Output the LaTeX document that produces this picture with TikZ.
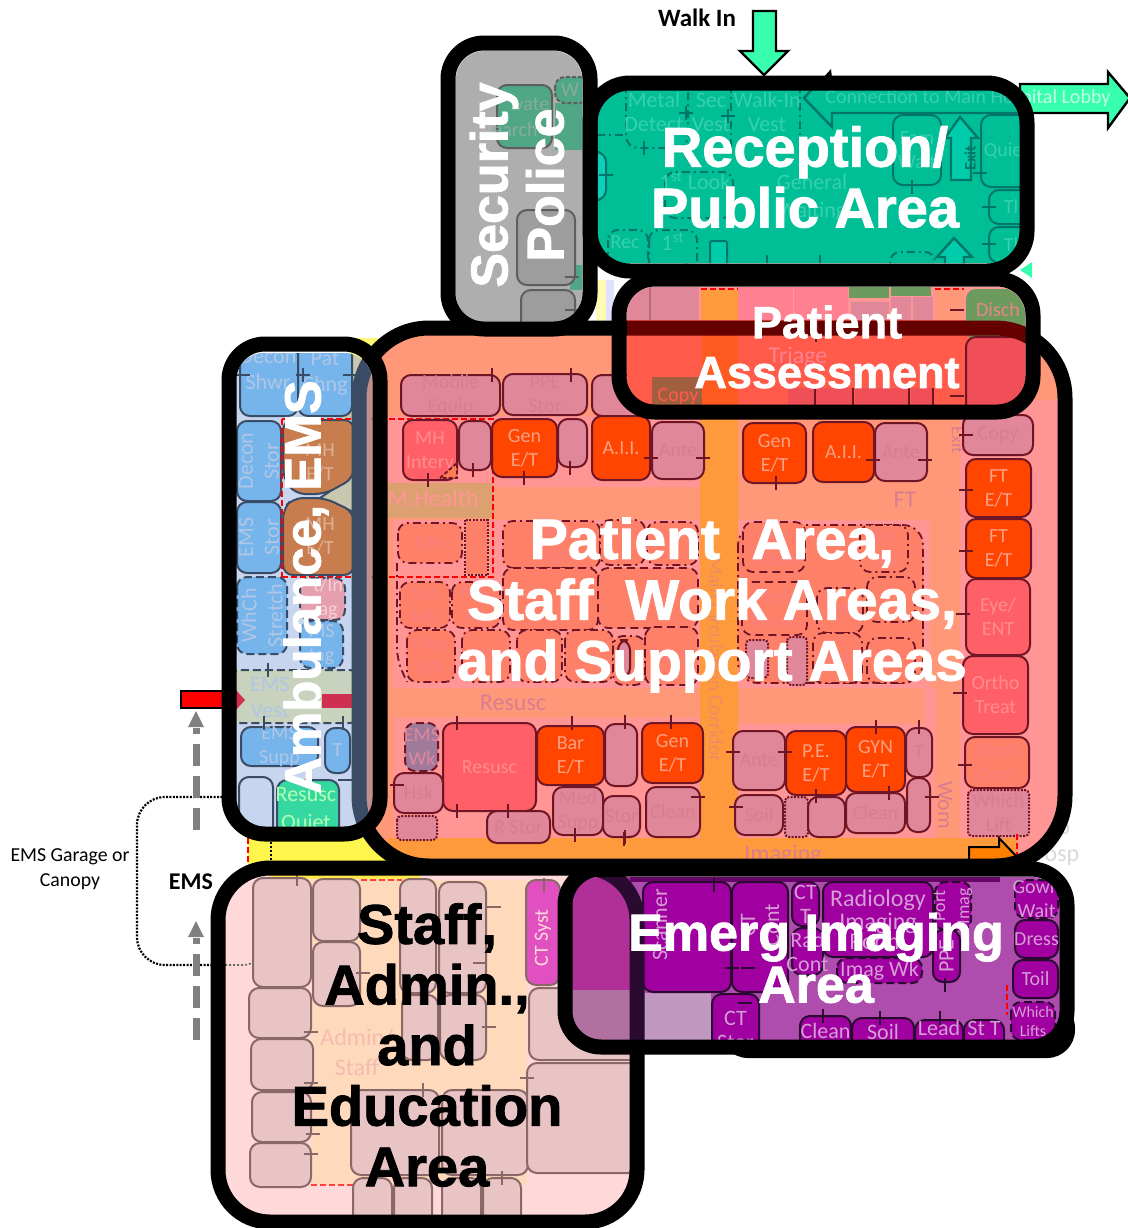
\documentclass[tikz,border=0pt]{standalone}
\usepackage{fontspec}
\setmainfont{Carlito}
\newfontfamily\hdfont{Liberation Sans}[BoldFeatures={FakeBold=1.5}]
\definecolor{pkF}{HTML}{E0879A}\definecolor{pkD}{HTML}{701525}\definecolor{pkT}{HTML}{D97D92}
\definecolor{orF}{HTML}{FF4500}\definecolor{orT}{HTML}{F9A184}
\definecolor{rdF}{HTML}{FF6068}\definecolor{rdT}{HTML}{FF8C8C}
\definecolor{saF}{HTML}{FF9878}\definecolor{piF}{HTML}{FF9595}\definecolor{crF}{HTML}{FF9A3C}
\definecolor{daF}{HTML}{FF8068}\definecolor{daT}{HTML}{F88080}
\definecolor{blF}{HTML}{75B5EC}\definecolor{blD}{HTML}{3A4B66}\definecolor{blT}{HTML}{B0C6E6}
\definecolor{amB}{HTML}{C8D5EE}\definecolor{brF}{HTML}{C87D4F}
\definecolor{teF}{HTML}{00BF96}\definecolor{teD}{HTML}{00776A}\definecolor{teT}{HTML}{36D0B0}
\definecolor{imB}{HTML}{AF4DAF}\definecolor{imF}{HTML}{A000A0}\definecolor{imD}{HTML}{2A0A30}\definecolor{imT}{HTML}{D49ED4}
\definecolor{stB}{HTML}{FFD9D9}\definecolor{stP}{HTML}{FFD9BC}\definecolor{stF}{HTML}{E8C4C4}\definecolor{stD}{HTML}{8A6868}
\definecolor{grF}{HTML}{6D9B5E}\definecolor{seB}{HTML}{AEAEAE}\definecolor{seD}{HTML}{5E5E5E}
\definecolor{mint}{HTML}{38FFAE}
\definecolor{mhB}{HTML}{DDA070}\definecolor{asB}{HTML}{FF5A4A}\definecolor{asR}{HTML}{F04F58}
\definecolor{asP}{HTML}{FF8090}\definecolor{asO}{HTML}{FF5A20}\definecolor{maro}{HTML}{650000}
\definecolor{imL}{HTML}{B03098}\definecolor{imM}{HTML}{B070A0}\definecolor{imG}{HTML}{C098C0}
\definecolor{cpB}{HTML}{A06040}\definecolor{ctS}{HTML}{E050C0}\definecolor{seG}{HTML}{4FA786}
\definecolor{emW}{HTML}{A07A9A}\definecolor{veB}{HTML}{C8D2BC}\definecolor{rsQ}{HTML}{35D8A0}
\definecolor{crR}{HTML}{D03050}\definecolor{bnd}{HTML}{C09090}\definecolor{tri}{HTML}{C8C8B0}
\newcounter{lb}
\tikzset{
 lbl/.style={inner sep=0pt,align=center,font=\fontsize{10}{12}\selectfont},
 bigw/.style={inner sep=0pt,align=center,text=white,font=\hdfont\bfseries\fontsize{#1}{#1}\selectfont},
 bigk/.style={inner sep=0pt,align=center,text=black,font=\hdfont\bfseries\fontsize{28}{30.3}\selectfont},
 frameline/.style={draw=black,line width=7.5pt},
 rr/.style={rounded corners=5pt,line width=1pt},
 pk/.style={rr,fill=pkF,draw=pkD}, pkl/.style={text=pkT},
 orr/.style={rr,fill=orF,draw=pkD}, orrl/.style={text=orT},
 rdr/.style={rr,fill=rdF,draw=pkD}, rdrl/.style={text=rdT},
 dda/.style={rr,line width=0.9pt,fill=daF,draw=pkD,dash pattern=on 4pt off 2.5pt}, ddal/.style={text=daT},
 ddo/.style={rr,line width=0.9pt,fill=daF,draw=pkD,dash pattern=on 4pt off 2pt on 1pt off 2pt}, ddol/.style={text=daT},
 ddt/.style={rr,rounded corners=2pt,fill=pkF,draw=pkD,dash pattern=on 1pt off 0.7pt}, ddtl/.style={text=pkT},
 bl/.style={rr,fill=blF,draw=blD}, bll/.style={text=blT},
 bld/.style={bl,dash pattern=on 4pt off 2pt}, bldl/.style={text=blT},
 te/.style={rr,fill=teF,draw=teD}, tel/.style={text=teT},
 ted/.style={te,dash pattern=on 4pt off 2pt on 1pt off 2pt}, tedl/.style={text=teT},
 im/.style={rr,fill=imF,draw=imD}, iml/.style={text=imT},
 imd/.style={im,dash pattern=on 4pt off 2pt}, imdl/.style={text=imT},
 st/.style={rr,fill=stF,draw=stD}, stl/.style={text=stD},
 se/.style={rr,fill=seB!90!black,draw=seD}, sel/.style={text=seD},
 tk/.style={line width=1pt},
 ems/.style={draw=gray,line width=3.5pt,dash pattern=on 11pt off 5pt},
 reddash/.style={red,line width=0.9pt,dash pattern=on 3pt off 1.5pt},
}
\newcommand{\Rm}[7][]{%
 \draw[#2] (#3,#4) rectangle (#5,#6);
 \stepcounter{lb}\node[lbl,#2l,#1] (lb\arabic{lb}) at ({(#3+#5)/2},{(#4+#6)/2}) {#7};}
\newcommand{\Tx}[4][]{\stepcounter{lb}\node[lbl,#1] (lb\arabic{lb}) at (#2,#3) {#4};}
\newcommand{\Hk}[2]{\foreach \x/\y in {#2} \draw[tk,#1] ({\x-7},\y) -- ({\x+7},\y);}
\newcommand{\Vk}[2]{\foreach \x/\y in {#2} \draw[tk,#1] (\x,{\y-7}) -- (\x,{\y+7});}
\newcommand{\PatRing}[1]{\draw[line width=7.5pt,draw=#1,rounded corners=35pt] (359,328) rectangle (1065,866);}
\newcommand{\StaffRing}[1]{\draw[line width=7.5pt,draw=#1,rounded corners=26pt] (218,868) rectangle (637,1222);}
\begin{document}
\begin{tikzpicture}[x=0.5pt,y=-0.5pt]
\useasboundingbox (0,0) rectangle (1128,1228);
\fill[white] (0,0) rectangle (1128,1228);
% yellow canopy strip and small wedges
\fill[yellow!70!white] (248,838) rectangle (400,866);
\fill[yellow!55!white] (350,338) -- (385,338) -- (385,360) -- (350,360) -- cycle;
\draw[reddash] (248,838) -- (248,866);
\draw[black,line width=1.2pt,dash pattern=on 1pt off 1pt] (271,838) -- (271,866);
\fill[yellow!30!white] (596,280) rectangle (606,336);
\fill[blue!12!white] (606,280) rectangle (614,336);
% faint text to the right of the patient area
\Tx[text=black!15,font=\fontsize{12}{12}\selectfont]{1064}{829}{o}
\Tx[text=black!15,font=\fontsize{12}{12}\selectfont]{1062}{858}{osp}
% left side
\Tx[text=black,font=\fontsize{9.9}{12.4}\selectfont]{70}{869}{EMS Garage or\\Canopy}
\Tx[text=black,font=\bfseries\fontsize{12}{12}\selectfont]{191}{882}{EMS}
\draw[black,line width=1.1pt,dash pattern=on 1pt off 0.7pt,rounded corners=14pt] (236,797) -- (137,797) -- (137,965) -- (225,965);
\draw[ems] (196,830) -- (196,728);
\fill[gray] (196,711) -- (204,727) -- (188,727) -- cycle;
\draw[ems] (196,1040) -- (196,938);
\fill[gray] (196,921) -- (204,937) -- (188,937) -- cycle;
\draw[black,line width=1pt,fill=red] (181,691) rectangle (245,708);
% walk-in and lobby arrows
\Tx[text=black,font=\bfseries\fontsize{12.5}{12.5}\selectfont]{697}{18}{Walk In}
\draw[black,line width=1.2pt,fill=mint] (753,11) -- (776,11) -- (776,51) -- (788,51) -- (764,75) -- (740,51) -- (753,51) -- cycle;
\draw[black,line width=1.2pt,fill=mint] (1020,84) -- (1108,84) -- (1108,72) -- (1130,98) -- (1108,128) -- (1108,113) -- (1020,113) -- cycle;
\Tx[text=mint!30!white,font=\fontsize{10}{10}\selectfont]{968}{98}{Connection to Main Hospital Lobby}
\fill[black] (831,69) -- (832,78) -- (823,78) -- cycle;
\fill[mint] (1020,270) -- (1032,262) -- (1032,278) -- cycle;
% ================= PATIENT AREA =================
\begin{scope}
\clip[rounded corners=35pt] (359,328) rectangle (1065,866);
\fill[saF] (340,320) rectangle (1080,870);
\fill[piF] (387,416) rectangle (704,487);
\fill[piF] (393,520) rectangle (700,688);
\fill[piF] (738,520) rectangle (930,688);
\fill[piF] (394,718) rectangle (704,842);
\fill[piF] (733,724) rectangle (935,842);
\fill[piF] (925,688) rectangle (935,730);
\fill[piF] (960,400) rectangle (1080,870);
\fill[crF] (387,838) rectangle (1017,870);
\fill[crF] (700,340) rectangle (738,860);
\fill[mhB] (387,483) rectangle (493,518);
\Tx[text=crF!50!pkT,rotate=-90,font=\fontsize{10}{10}\selectfont]{716}{660}{Main Circulation Corridor}
\Tx[text=piF,font=\fontsize{12}{12}\selectfont]{433}{498}{M.Health}
\Tx[text=pkT,font=\fontsize{12}{12}\selectfont]{513}{703}{Resusc}
\Tx[text=pkT,font=\fontsize{12}{12}\selectfont]{905}{500}{FT}
\Tx[text=pkT,font=\fontsize{12}{12}\selectfont]{783}{855}{Imaging}
\Tx[text=pkT,rotate=-90,font=\fontsize{11}{11}\selectfont]{945}{805}{Wom}
\Tx[text=pkT,rotate=-90,font=\fontsize{9}{9}\selectfont]{958}{440}{Exit}
\draw[reddash] (281,419) -- (493,419) -- (493,577) -- (281,577);
% top rows
\Rm{pk}{401}{375}{500}{416}{Mobile\\Equip}
\Rm{pk}{503}{374}{587}{415}{PPE\\Stor}
\Rm{pk}{592}{375}{660}{416}{}
\Rm{rdr}{403}{420}{457}{480}{MH\\Interv}
\draw[pkD,line width=0.9pt,fill=crF!50!rdF,dash pattern=on 2pt off 1pt] (440,478) -- (457,463) -- (457,478) -- cycle;
\Rm{pk}{459}{421}{491}{470}{}
\Rm{orr}{492}{419}{557}{477}{Gen\\E/T}
\Rm{pk}{558}{419}{587}{467}{}
\Rm{orr}{592}{416}{650}{480}{A.I.I.}
\Rm{pk}{652}{422}{704}{479}{Ante}
\Rm{orr}{743}{423}{806}{483}{Gen\\E/T}
\Rm{orr}{813}{422}{874}{482}{A.I.I.}
\Rm{pk}{875}{423}{927}{481}{Ante}
% right column
\Rm{pk}{963}{415}{1033}{455}{Copy}
\Rm{orr}{966}{459}{1031}{517}{FT\\E/T}
\Rm{orr}{966}{519}{1031}{578}{FT\\E/T}
\Rm{rdr}{966}{579}{1030}{655}{Eye/\\ENT}
\Rm{rdr}{963}{656}{1028}{734}{Ortho\\Treat}
\draw[rr,fill=daF,draw=pkD] (965,737) rectangle (1029,788);
\Tx[text=daT]{997}{762}{Wom\\Cons}
\Rm{ddt}{968}{790}{1029}{836}{Which\\Lift}
% central dash rooms
\Rm{ddo}{398}{523}{462}{563}{MH}
\fill[daF] (466,521) rectangle (487,574);
\draw[pkD,line width=0.8pt,dash pattern=on 1pt off 0.7pt] (465,520) rectangle (488,575);
\Rm{ddo}{503}{521}{600}{568}{Case\\Mgr}
\Rm{ddo}{600}{520}{645}{565}{}
\Rm{ddo}{647}{522}{698}{565}{}
\Rm{dda}{503}{568}{598}{630}{}
\Rm{dda}{598}{568}{698}{628}{Wk}
\Rm{ddo}{400}{582}{450}{628}{Soc\\Wk}
\Rm{ddo}{452}{582}{500}{628}{MH\\PA}
\Rm{ddo}{407}{630}{455}{682}{Phm\\Wk}
\Rm{ddo}{462}{630}{510}{682}{RN}
\Rm{ddo}{517}{630}{562}{682}{RN}
\Rm{ddo}{565}{630}{613}{682}{}
\Rm{dda}{645}{627}{698}{685}{Meds}
\Rm{ddo}{613}{636}{645}{685}{}
\draw[rr,fill=pkF,draw=pkD] (618,640) rectangle (630,678);
\draw[pkD,line width=0.9pt,dash pattern=on 4pt off 2pt on 1pt off 2pt,rounded corners=6pt] (397,563) -- (397,660) -- (407,682);
% right cluster
\draw[pkD,line width=0.9pt,fill=daF,dash pattern=on 4pt off 2pt on 1pt off 2pt,rounded corners=10pt] (738,525) rectangle (923,683);
\Rm{dda}{743}{522}{805}{572}{Rm\\Meds}
\Rm{dda}{742}{582}{807}{635}{Meds\\Room}
\Rm{ddo}{860}{525}{908}{572}{RN\\Wk}
\Rm{ddo}{817}{588}{863}{633}{PA}
\Rm{ddo}{867}{577}{915}{622}{}
\Rm{ddo}{813}{633}{862}{683}{RN}
\Rm{ddo}{867}{638}{915}{683}{RN}
\Rm{ddt}{746}{640}{768}{678}{}
\Rm{ddt}{787}{637}{807}{685}{}
% bottom rows
\draw[rr,fill=emW,draw=pkD,dash pattern=on 4pt off 2pt] (405,723) rectangle (438,771);
\Tx[text=pkF]{422}{747}{EMS\\Wk}
\Rm{rdr}{443}{723}{536}{811}{Resusc}
\Rm{orr}{537}{726}{604}{785}{Bar\\E/T}
\Rm{pk}{605}{724}{637}{786}{}
\Rm{orr}{642}{723}{703}{783}{Gen\\E/T}
\Rm{pk}{394}{773}{443}{813}{Hsk}
\Rm{ddt}{397}{816}{437}{840}{}
\Rm{pk}{487}{811}{550}{843}{R Stor}
\Rm{pk}{553}{787}{603}{835}{Med\\Supp}
\Rm{pk}{603}{796}{640}{837}{Stor}
\Rm{pk}{646}{787}{700}{837}{Clean}
\Rm{pk}{733}{731}{785}{790}{Ante}
\Rm{orr}{786}{731}{846}{795}{P.E.\\E/T}
\Rm{orr}{846}{727}{905}{792}{GYN\\E/T}
\Rm{pk}{906}{728}{932}{777}{T}
\Rm{pk}{907}{778}{930}{832}{}
\Rm{pk}{735}{795}{783}{835}{Soil}
\Rm{ddt}{785}{797}{808}{837}{}
\Rm{pk}{808}{797}{845}{837}{}
\Rm{pk}{846}{793}{905}{833}{Clean}
\Hk{pkD}{651/458,703/458,873/460,925/460,966/435,966/490,966/551,963/614,960/693,965/765,733/752,785/752,698/797,736/807,932/797,397/785}
\Vk{pkD}{492/375,571/375,428/480,473/470,524/478,570/468,776/483,457/723,572/723,625/722,671/722,876/727,919/727,457/811,508/811,575/835,625/837,816/796,889/793,624/839}
% orange corner arrow
\draw[black,line width=1pt,fill=orange] (969,870) -- (969,847) -- (999,847) -- (999,838) -- (1018,858) -- (1005,870) -- cycle;
\draw[reddash] (1017,834) -- (1017,862);
\end{scope}
\PatRing{black}
% ================= PATIENT ASSESSMENT =================
\begin{scope}
\clip[rounded corners=14pt] (627,287) rectangle (1025,405);
\fill[asB] (620,280) rectangle (1030,410);
\fill[asO] (702,335) rectangle (738,410);
\fill[piF] (620,280) rectangle (1030,320);
\fill[pkF] (620,280) rectangle (699,320);
\draw[pkF!80!black,line width=0.7pt] (650,280) -- (650,320);
\fill[crF] (701,290) rectangle (738,320);
\draw[reddash] (701,289) -- (738,289);
\fill[asP] (738,280) rectangle (793,320);
\fill[asP] (794,280) rectangle (848,320);
\fill[grF] (849,280) rectangle (889,298);
\fill[grF] (891,280) rectangle (931,296);
\fill[pkF] (851,302) rectangle (889,320);
\fill[pkF] (891,297) rectangle (911,320);
\fill[pkF] (913,297) rectangle (933,320);
\fill[saF] (935,289) rectangle (964,320);
\draw[reddash] (935,289) -- (964,289);
\fill[grF,rounded corners=5pt] (966,289) -- (966,340) -- (1030,340) -- (1030,289) -- cycle;
\Tx[text=piF!90!black,font=\fontsize{10}{10}\selectfont]{998}{310}{Disch}
\Tx[text=asP,font=\fontsize{12}{12}\selectfont]{798}{357}{Triage}
\fill[cpB] (652,377) rectangle (702,410);
\Tx[text=asB,font=\fontsize{10}{10}\selectfont]{678}{397}{Copy}
\fill[asR] (788,388) rectangle (815,410);
\fill[asR] (816,388) rectangle (853,410);
\fill[asR] (855,388) rectangle (909,410);
\fill[asR] (911,388) rectangle (933,410);
\fill[asB] (935,388) rectangle (964,410);
\draw[rr,fill=asR,draw=pkD] (966,337) rectangle (1035,415);
\foreach \x in {815,853,909,933} \draw[pkD,line width=0.7pt] (\x,388) -- (\x,405);
\Hk{pkD}{957/310,957/396}
\Vk{pkD}{816/335}
\PatRing{maro}
\end{scope}
% ================= AMBULANCE =================
\begin{scope}
\clip[rounded corners=14pt] (236,353) rectangle (372,828);
\fill[amB] (230,345) rectangle (380,835);
\fill[tri] (340,345) rectangle (380,420);
\Rm{bl}{240}{345}{298}{416}{}
\Rm{bl}{298}{345}{352}{416}{}
\Tx[text=blT,font=\fontsize{11}{13}\selectfont]{268}{370}{Decon\\Shwr}
\Tx[text=blT,font=\fontsize{11}{13}\selectfont]{325}{373}{Pat\\Chng}
\Rm[rotate=90,font=\fontsize{11}{13}\selectfont]{bl}{237}{421}{281}{501}{Decon\\Stor}
\Rm[rotate=90,font=\fontsize{11}{13}\selectfont]{bl}{237}{502}{281}{573}{EMS\\Stor}
\draw[blD,line width=1pt,fill=tri] (320,498) -- (354,475) -- (354,512) -- cycle;
\draw[line width=1pt,draw=blD,fill=brF,rounded corners=5pt] (283,420) -- (354,420) -- (354,478) -- (325,494) -- (295,494) -- (283,478) -- cycle;
\draw[line width=1pt,draw=blD,fill=brF,rounded corners=5pt] (283,509) -- (293,498) -- (325,498) -- (354,512) -- (354,575) -- (283,575) -- cycle;
\Tx[text=brF!60!white]{320}{462}{MH\\E/T}
\Tx[text=brF!60!white]{320}{536}{MH\\E/T}
\draw[reddash] (282,419) -- (372,419) (282,577) -- (372,577) (282,419) -- (282,577);
\Rm[rotate=90,font=\fontsize{11}{13}\selectfont]{bld}{237}{577}{287}{654}{WhCh\\Stretch}
\draw[rr,fill=pkF!80!white,draw=blD,dash pattern=on 4pt off 2pt] (300,578) rectangle (345,620);
\Tx[text=pkF!40!white]{328}{598}{t/In\\ag}
\Rm{bld}{300}{621}{343}{668}{MS\\tag}
\draw[rr,fill=veB,draw=blD,dash pattern=on 4pt off 2pt] (230,670) rectangle (360,723);
\Tx[text=blT,font=\fontsize{11}{13}\selectfont]{270}{697}{EMS\\Vest}
\fill[crR] (322,694) rectangle (352,708);
\fill[crR] (365,688) -- (372,700) -- (365,714) -- cycle;
\fill[crR] (236,690) -- (245,700) -- (236,710) -- cycle;
\Rm{bl}{241}{727}{318}{766}{EMS\\Supp}
\Rm{bl}{325}{728}{350}{773}{T}
\draw[rr,fill=amB,draw=blD] (239,777) rectangle (273,840);
\draw[rr,fill=rsQ,draw=blD] (277,780) rectangle (339,840);
\Tx[text=white!70!green,font=\fontsize{11}{14}\selectfont]{306}{810}{Resusc\\Quiet}
\Hk{blD}{243/375,303/375,350/375,345/780}
\Vk{blD}{303/375,264/723,268/670,343/723}
\fill[bnd] (366,340) rectangle (375,835);
\PatRing{blD}
\end{scope}
% ================= STAFF =================
\begin{scope}
\clip[rounded corners=22pt] (225,875) rectangle (632,1215);
\fill[stB] (218,868) rectangle (637,1222);
\fill[stP] (311,880) rectangle (527,1185);
\fill[yellow!60!stP] (270,875) rectangle (420,879);
\Tx[text=pkF!35!stP,font=\fontsize{12}{15}\selectfont]{357}{1052}{Admin/\\Staff}
\draw[black!60,line width=0.8pt,dash pattern=on 1pt off 1pt,rounded corners=14pt] (225,965) -- (270,965) -- (272,878);
\draw[reddash,opacity=0.7] (361,880) -- (402,880) (311,1185) -- (353,1185);
\Rm{st}{253}{878}{311}{987}{}
\Rm{st}{313}{879}{360}{941}{}
\Rm{st}{313}{942}{360}{1006}{}
\Rm{st}{249}{988}{311}{1038}{}
\Rm{st}{251}{1039}{313}{1090}{}
\Rm{st}{252}{1092}{311}{1142}{}
\Rm{st}{250}{1143}{311}{1187}{}
\Rm{st}{400}{879}{436}{993}{}
\Rm{st}{439}{882}{486}{993}{}
\Rm{st}{402}{995}{438}{1060}{}
\Rm{st}{440}{995}{486}{1060}{}
\Rm{st}{351}{1090}{439}{1175}{}
\Rm{st}{442}{1090}{528}{1175}{}
\Rm{st}{529}{988}{640}{1060}{}
\Rm{st}{527}{1063}{640}{1173}{}
\draw[rr,fill=ctS,draw=stD] (526,880) rectangle (560,985);
\Tx[text=stB,rotate=90,font=\fontsize{10}{10}\selectfont]{543}{938}{CT Syst}
\Rm{st}{353}{1178}{392}{1230}{}
\Rm{st}{394}{1178}{432}{1230}{}
\Rm{st}{442}{1178}{481}{1230}{}
\Rm{st}{483}{1178}{521}{1230}{}
\Hk{stD}{311/1032,311/1083,313/1134,311/1154,363/973,494/907,480/963,489/1027,527/1078}
\Vk{stD}{297/879,423/1090,502/1178,544/885}
\end{scope}
\StaffRing{black}
% ================= EMERG IMAGING =================
\fill[black,rounded corners=14pt] (720,1000) rectangle (1075,1058);
\begin{scope}
\clip[rounded corners=14pt] (572,877) rectangle (1060,1040);
\fill[imB] (565,870) rectangle (1065,1045);
\fill[imL] (565,870) rectangle (630,990);
\fill[imM] (565,990) rectangle (630,1045);
\fill[imG] (644,993) rectangle (711,1045);
\fill[imD!50!imF] (630,877) rectangle (1000,882);
\draw[rr,fill=imF,draw=imD] (643,882) rectangle (731,992);
\Tx[text=imT,rotate=90,font=\fontsize{11}{11}\selectfont]{660}{925}{Scanner}
\draw[rr,fill=imF,draw=imD] (732,882) rectangle (788,992);
\Tx[text=imT,rotate=90,font=\fontsize{11}{11}\selectfont]{748}{925}{CT}
\Tx[text=imT,rotate=90,font=\fontsize{11}{11}\selectfont]{772}{925}{Cont}
\Rm[font=\fontsize{11}{12}\selectfont,yshift=0pt]{im}{792}{882}{819}{926}{CT\\T}
\Rm[font=\fontsize{11}{12}\selectfont]{im}{792}{928}{823}{975}{Rad\\Cont}
\Rm[font=\fontsize{12}{10}\selectfont]{im}{823}{882}{933}{957}{Radiology\\Imaging\\Room}
\Rm[font=\fontsize{11}{11}\selectfont]{imd}{837}{958}{922}{983}{Imag Wk}
\Rm[rotate=90,font=\fontsize{9}{12}\selectfont]{imd}{935}{882}{971}{930}{Port\\Imag}
\Rm[rotate=90,font=\fontsize{11}{11}\selectfont]{im}{933}{930}{960}{982}{PPE}
\Rm{imd}{1015}{880}{1058}{918}{Gown\\Wait}
\Rm{im}{1015}{920}{1058}{958}{Dress}
\Rm{im}{1013}{960}{1058}{998}{Toil}
\Rm[font=\fontsize{8}{9.5}\selectfont]{imd}{1011}{1002}{1055}{1040}{Which\\Lifts}
\Rm[yshift=-3pt,font=\fontsize{11}{12}\selectfont]{im}{712}{994}{759}{1055}{CT\\Stor}
\Rm[yshift=1pt,font=\fontsize{11}{11}\selectfont]{im}{800}{1016}{851}{1050}{Clean}
\Rm[yshift=1pt,font=\fontsize{11}{11}\selectfont]{im}{852}{1018}{914}{1050}{Soil}
\Rm[yshift=3.5pt,font=\fontsize{11}{11}\selectfont]{im}{915}{1020}{963}{1050}{Lead}
\Rm[yshift=3.5pt,font=\fontsize{11}{11}\selectfont]{im}{964}{1020}{1004}{1050}{St T}
\draw[reddash] (1007,985) -- (1007,1015);
\Hk{imD}{732/968,745/1003,748/968}
\Vk{imD}{714/885,945/985,823/1016,880/1018,940/1018}
\StaffRing{imD}
\end{scope}
% ================= SECURITY =================
\begin{scope}
\clip[rounded corners=14pt] (456,51) rectangle (582,322);
\fill[seB] (450,45) rectangle (590,330);
\draw[rr,fill=seG,draw=seD] (497,85) rectangle (552,148);
\fill[seG] (555,103) rectangle (590,150);
\draw[rr,fill=seG,draw=seD,dash pattern=on 2pt off 1pt] (555,77) rectangle (590,103);
\Tx[text=seB!60!seG]{532}{104}{vate}
\Tx[text=seB!60!seG]{515}{130}{earch}
\Tx[text=seB!60!seG]{570}{90}{W}
\fill[seG] (570,265) rectangle (590,290);
\Rm{se}{517}{210}{575}{285}{}
\Rm{se}{521}{290}{575}{340}{}
\Hk{seD}{572/277,572/310}
\end{scope}
% ================= RECEPTION =================
\begin{scope}
\clip[rounded corners=14pt] (597,90) rectangle (1020,263);
\fill[teF] (590,85) rectangle (1030,270);
\draw[teD,line width=1pt,dash pattern=on 4pt off 2pt on 1pt off 2pt,rounded corners=6pt] (626,85) -- (626,148) -- (688,148) -- (688,85);
\draw[teD,line width=1pt,dash pattern=on 4pt off 2pt on 1pt off 2pt] (731,85) -- (731,148) (800,85) -- (800,150) (597,135) -- (626,135);
\Tx[text=teT,font=\fontsize{11}{12}\selectfont]{654}{112}{Metal\\Detect}
\Tx[text=teT,font=\fontsize{11}{12}\selectfont]{711}{112}{Sec\\Vest}
\Tx[text=teT,font=\fontsize{11}{12}\selectfont]{767}{112}{Walk-In\\Vest}
\draw[teD,line width=1.2pt,fill=teF] (1040,113) -- (832,113) -- (832,127) -- (804,98) -- (832,68) -- (832,80) -- (1040,80) -- cycle;
\Tx[text=teT,font=\fontsize{10}{10}\selectfont]{968}{98}{Connection to Main Hospital Lobby}
\Rm{te}{893}{115}{941}{185}{Fam\\Wait}
\draw[line width=1.2pt,draw=teD,fill=teF!80!cyan] (960,117) -- (978,138) -- (971,138) -- (971,180) -- (951,180) -- (951,138) -- (945,138) -- cycle;
\Tx[text=teD,rotate=90,font=\bfseries\fontsize{8}{8}\selectfont]{970}{158}{Exit}
\Rm[xshift=-2pt]{te}{981}{115}{1040}{187}{Quiet}
\Rm{te}{989}{190}{1040}{224}{Tlt}
\Rm{te}{989}{227}{1040}{263}{Tlt}
\Rm[xshift=-2pt,font=\fontsize{11}{14}\selectfont]{ted}{665}{172}{733}{218}{1\textsuperscript{st} Look\\}
\Tx[text=teT,font=\fontsize{11}{14}\selectfont]{812}{198}{General\\Waiting}
\Rm[xshift=-1.5pt,yshift=4pt]{ted}{608}{230}{648}{270}{Rec}
\Rm[yshift=1pt,font=\fontsize{11}{14}\selectfont]{ted}{649}{230}{697}{285}{1\textsuperscript{st}\\Look}
\draw[rr,rounded corners=1pt,fill=teF!80!cyan,draw=teD] (710,241) rectangle (727,270);
\draw[line width=1.2pt,draw=teD,fill=teF!80!cyan] (954,238) -- (972,257) -- (964,257) -- (964,270) -- (945,270) -- (945,257) -- (937,257) -- cycle;
\draw[rr,fill=teF!60!cyan!90!gray,draw=teD] (590,152) rectangle (606,200);
\Rm{ted}{890}{252}{935}{285}{}
\Hk{teD}{686/113,728/116,980/173,989/207,989/244,606/175}
\Vk{teD}{686/113,728/116,644/148,912/187,767/262,820/262}
\end{scope}
% ================= FRAMES =================
\draw[frameline,rounded corners=18pt] (448,43) rectangle (590,329);
\draw[frameline,rounded corners=20pt] (590,83) rectangle (1027,271);
\draw[frameline,rounded corners=18pt] (619,279) rectangle (1033,412);
\draw[frameline,rounded corners=18pt] (229,344) rectangle (380,834);
\draw[frameline,rounded corners=18pt] (565,869) rectangle (1067,1047);
% ================= TITLES =================
\node[bigw=28] (tRec) at (805,177) {Reception/\\[2.4pt]Public Area};
\node[bigw=22.5] (tAss) at (827,347) {Patient\\[2.4pt]Assessment};
\node[inner sep=0pt,align=center,text=white,font=\hdfont\bfseries\fontsize{28.5}{30.4}\selectfont] (tPat) at (712,605) {Patient\ \ Area,\\Staff\ \ Work\ Areas,\\and\ Support\ Areas};
\node[bigw=26] (tImg) at (816,958) {Emerg Imaging\\Area};
\node[bigk] (tSta) at (427,1045) {Staff,\\Admin.,\\and\\Education\\Area};
\node[bigw=26,rotate=90] (tSec) at (494,185) {Security};
\node[bigw=26,rotate=90] (tPol) at (545,185) {Police};
\node[bigw=25.5,rotate=90] (tAmb) at (306,587) {Ambulance, EMS};
\end{tikzpicture}
\end{document}
